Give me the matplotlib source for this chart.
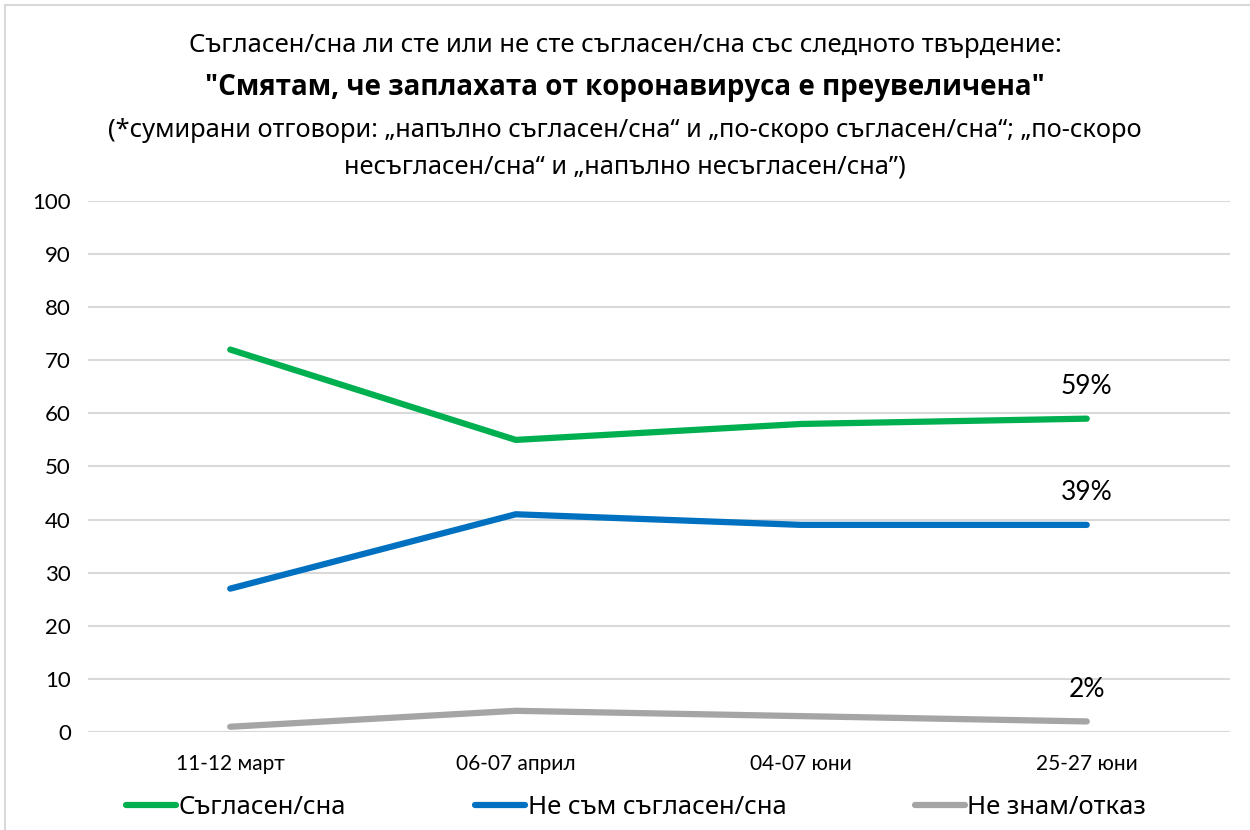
import matplotlib
matplotlib.use("Agg")
import matplotlib.pyplot as plt
from matplotlib.patches import Rectangle

# Data
periods = ["11-12 март", "06-07 април", "04-07 юни", "25-27 юни"]
agree = [72, 55, 58, 59]
disagree = [27, 41, 39, 39]
dont_know = [1, 4, 3, 2]
series_names = ["Съгласен/сна", "Не съм съгласен/сна", "Не знам/отказ"]
colors = ["#00b050", "#0070c0", "#a5a5a5"]

plt.rcParams['font.family'] = ['Noto Sans', 'DejaVu Sans']
num_font = ['Lato', 'DejaVu Sans']

fig = plt.figure(figsize=(12.5, 8.3), dpi=100)
ax = fig.add_axes([0.07, 0.118, 0.9136, 0.64])

x = range(len(periods))
for vals, name, col in zip([agree, disagree, dont_know], series_names, colors):
    ax.plot(x, vals, color=col, lw=4.5, label=name, solid_capstyle='round')
    ax.annotate(f"{vals[-1]}%", (x[-1], vals[-1]), xytext=(0, 14),
                textcoords='offset points', ha='center', va='bottom',
                fontsize=19, family=num_font)

ax.set_xlim(-0.5, len(periods) - 0.5)
ax.set_ylim(0, 100)
ax.set_yticks(range(0, 101, 10))
ax.set_xticks(list(x))
ax.set_xticklabels(periods, fontsize=15, family=num_font)
ax.tick_params(axis='y', labelsize=16, length=0, pad=12)
ax.tick_params(axis='x', length=0, pad=16)
for lbl in ax.get_yticklabels():
    lbl.set_family(num_font)
ax.grid(axis='y', color='#d9d9d9', lw=1.5)
ax.set_axisbelow(True)
for s in ax.spines.values():
    s.set_visible(False)

# titles
fig.text(0.5, 0.945, "Съгласен/сна ли сте или не сте съгласен/сна със следното твърдение:",
         ha='center', va='center', fontsize=18.5)
fig.text(0.5, 0.895, '"Смятам, че заплахата от коронавируса е преувеличена"',
         ha='center', va='center', fontsize=20, fontweight='bold',
         family=['Open Sans', 'DejaVu Sans'])
fig.text(0.5, 0.843, "(*сумирани отговори: „напълно съгласен/сна“ и „по-скоро съгласен/сна“; „по-скоро",
         ha='center', va='center', fontsize=18.3)
fig.text(0.5, 0.799, "несъгласен/сна“ и „напълно несъгласен/сна”)",
         ha='center', va='center', fontsize=18.3)

fig.legend(loc='center', bbox_to_anchor=(0.509, 0.027), ncol=3, frameon=False,
           fontsize=18.5, handlelength=1.95, handletextpad=0.1, columnspacing=5.0)

fig.patches.append(Rectangle((0.004, -0.01), 1.2, 1.004, transform=fig.transFigure,
                             fill=False, edgecolor='#d9d9d9', lw=1.5))

fig.savefig("out.png", dpi=100)
